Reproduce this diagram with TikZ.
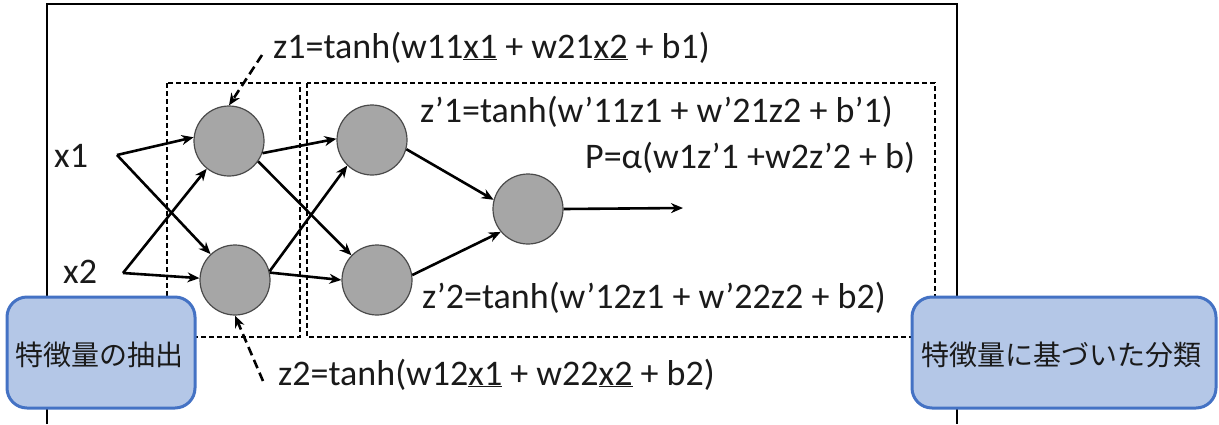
\documentclass[tikz,border=0pt]{standalone}
\usepackage{fontspec}
\setmainfont{Carlito}
\newfontfamily\jp{Noto Sans CJK JP}
\usetikzlibrary{arrows.meta}
\definecolor{nodefill}{HTML}{A6A6A6}
\definecolor{nodeedge}{HTML}{4A4A4A}
\definecolor{boxfill}{HTML}{B4C7E7}
\definecolor{boxedge}{HTML}{4472C4}
\definecolor{ink}{HTML}{1A1A1A}
\tikzset{
  neuron/.style={circle, minimum size=70pt, inner sep=0pt, fill=nodefill, draw=nodeedge, line width=1.2pt},
  conn/.style={line width=2.6pt, -{Stealth[length=12pt,width=10pt]}},
  dconn/.style={line width=2.6pt, dash pattern=on 9pt off 5pt, -{Stealth[length=12pt,width=10pt]}},
  group/.style={draw=black, line width=1.2pt, dash pattern=on 5pt off 3pt},
  frame/.style={draw=black, line width=2pt},
  lbl/.style={anchor=base west, inner sep=0pt, text=ink, font=\fontsize{36}{40}\selectfont},
  tagbox/.style={draw=boxedge, fill=boxfill, line width=3pt, rounded corners=20pt},
  tagtext/.style={inner sep=0pt, text=ink, font=\jp\fontsize{28}{32}\selectfont}
}
\begin{document}
\begin{tikzpicture}[x=1pt,y=-1pt]
\useasboundingbox (0,0) rectangle (1219,424);
% outer frame
\draw[frame] (47,424) -- (47,4) -- (957,4) -- (957,424);
% dashed groups
\draw[group] (167,83) rectangle (300,337);
\draw[group] (307,83) rectangle (935,337);
% neurons
\node[neuron] (h1) at (229,141) {};
\node[neuron] (h2) at (235,280) {};
\node[neuron] (o1) at (372,140) {};
\node[neuron] (o2) at (377,280) {};
\node[neuron] (f) at (528,209) {};
% inputs
\node[lbl] (x1) at (54,167) {x1};
\node[lbl] (x2) at (63,283) {x2};
\coordinate (x1p) at (117,155);
\coordinate (x2p) at (123,273);
\coordinate (out) at (683,208);
\draw[conn] (x1p) -- (h1.174);
\draw[conn] (x1p) -- (h2);
\draw[conn] (x2p) -- (h2.177);
\draw[conn] (x2p) -- (h1);
\draw[conn] (h1.-20) -- (o1.178);
\draw[conn] (h1.-35) -- (o2.136);
\draw[conn] (h2.14) -- (o1.-134);
\draw[conn] (h2.12) -- (o2.180);
\draw[conn] (o1.-15) -- (f.165);
\draw[conn] (o2.8) -- (f.-140);
\draw[conn] (f.east) -- (out);
% dashed annotation arrows
\coordinate (z1s) at (262,55);
\coordinate (z2s) at (263,381);
\draw[dconn] (z1s) -- (h1.north);
\draw[dconn] (z2s) -- (h2.south);
% formulas
\node[lbl] (t1) at (273,58) {z1=tanh(w11\underline{x1} + w21\underline{x2} + b1)};
\node[lbl] (t2) at (278,385) {z2=tanh(w12\underline{x1} + w22\underline{x2} + b2)};
\node[lbl] (t3) at (420,122) {z’1=tanh(w’11z1 + w’21z2 + b’1)};
\node[lbl] (t4) at (585,168) {P=α(w1z’1 +w2z’2 + b)};
\node[lbl] (t5) at (422,308) {z’2=tanh(w’12z1 + w’22z2 + b2)};
% tag boxes
\draw[tagbox] (7,297) rectangle (195,408);
\node[tagtext] (tagL) at (100,355) {特徴量の抽出};
\draw[tagbox] (912,297) rectangle (1216,408);
\node[tagtext] (tagR) at (1061,355) {特徴量に基づいた分類};
\end{tikzpicture}
\end{document}
